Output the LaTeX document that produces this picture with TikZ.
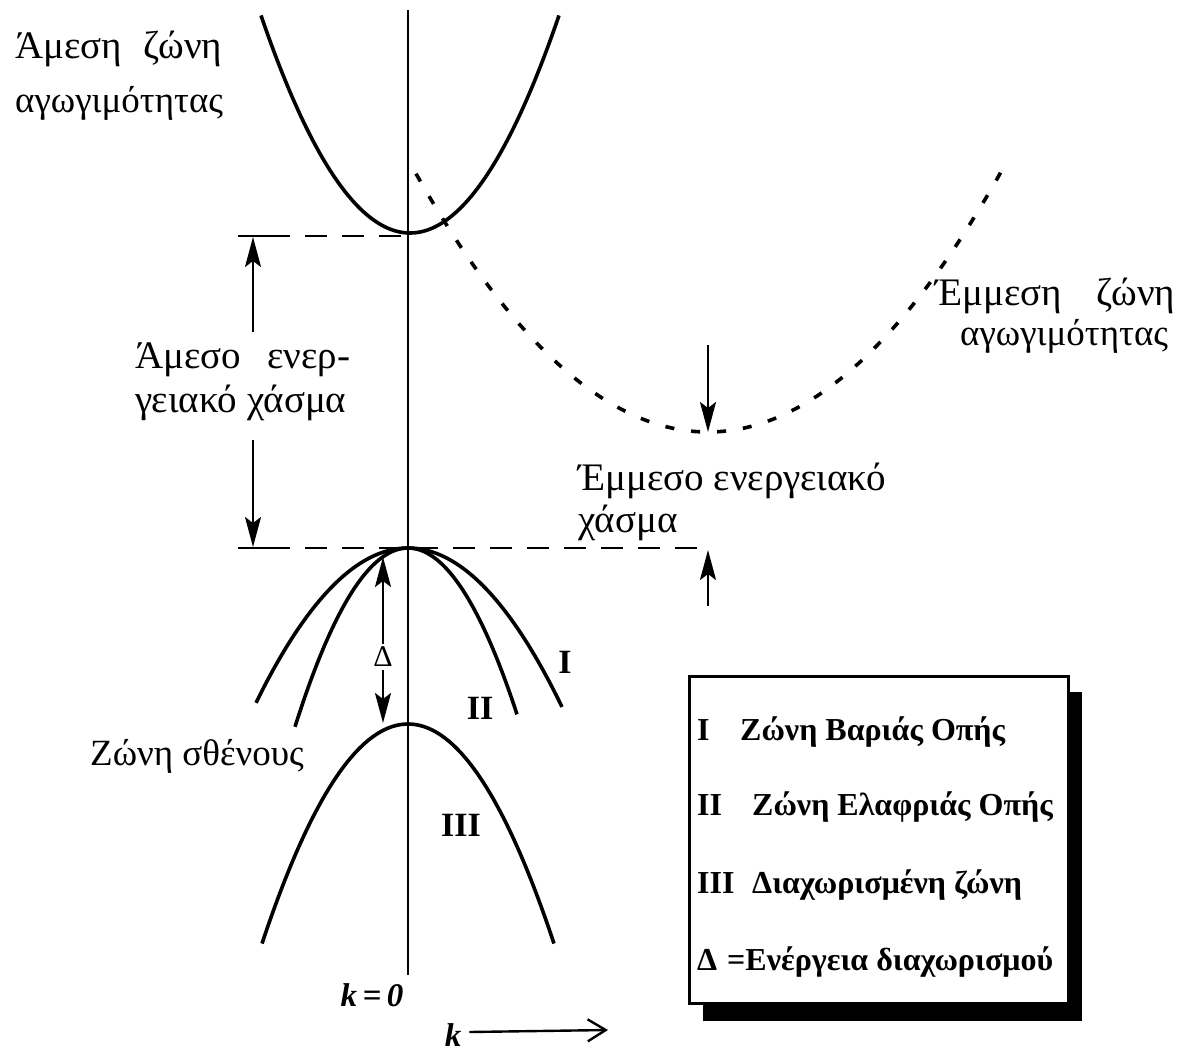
\documentclass[tikz,border=0pt]{standalone}
\usepackage{fontspec}
\setmainfont{Liberation Serif}
\usetikzlibrary{arrows.meta}
\begin{document}
\begin{tikzpicture}[x=1pt,y=-1pt,
  curve/.style={line width=3.6pt},
  axisline/.style={line width=2.8pt},
  dashline/.style={line width=2.6pt,dash pattern=on 22pt off 15pt},
  tickline/.style={line width=2.6pt},
  dotcurve/.style={line width=3.6pt,dash pattern=on 9pt off 17pt},
  arr/.style={line width=2.4pt,-{Stealth[length=30pt,width=16pt,inset=6pt]}},
  txt/.style={font=\fontsize{39}{43}\selectfont,inner sep=0pt,anchor=base west},
  legtxt/.style={font=\fontsize{32}{36}\selectfont\bfseries,inner sep=0pt,anchor=base west},
  roman/.style={font=\fontsize{34}{38}\selectfont\bfseries,inner sep=0pt},
  kbold/.style={font=\fontsize{33}{37}\selectfont\bfseries\itshape,inner sep=0pt},
]
\useasboundingbox (0,0) rectangle (1182,1063);
\fill[white] (0,0) rectangle (1182,1063);

% axis
\coordinate (axtop) at (408,10);
\coordinate (axbot) at (408,975);
\draw[axisline] (axtop) -- (axbot);

% direct conduction band
\draw[curve] plot[smooth,samples=61,domain=-14.9:14.9,variable=\t] ({410+10*\t},{233-0.98*\t*\t});

% indirect conduction band (dotted)
\draw[dotcurve] plot[smooth,samples=81,domain=-29.2:29.7,variable=\t] ({708+10*\t},{432-0.303*\t*\t});

% valence bands
\draw[curve] plot[smooth,samples=61,domain=-15.2:15.4,variable=\t] ({408+10*\t},{548+0.67*\t*\t});
\draw[curve] plot[smooth,samples=61,domain=-11.3:10.9,variable=\t] ({408+10*\t},{548+1.4*\t*\t});
\draw[curve] plot[smooth,samples=61,domain=-14.6:14.6,variable=\t] ({408+10*\t},{724+1.03*\t*\t});

% direct gap dashed lines with ticks
\coordinate (ul) at (238,236); \coordinate (ult) at (268,236); \coordinate (ur) at (408,236);
\coordinate (ll) at (238,548); \coordinate (llt) at (268,548); \coordinate (lr) at (708,548);
\draw[tickline] (ul) -- (ult);
\draw[dashline] (ult) -- (ur);
\draw[tickline] (ll) -- (llt);
\draw[dashline] (llt) -- (lr);

% direct gap arrows and label
\node[txt] (dg1) at (135,368) {\makebox[215pt][s]{Άμεσο ενερ-}};
\node[txt] (dg2) at (135,412) {γειακό χάσμα};
\coordinate (da1) at (253,332);
\coordinate (da2) at (253,440);
\draw[arr] (da1) -- (253,237);
\draw[arr] (da2) -- (253,547);

% indirect gap arrows
\coordinate (ia1) at (708,345);
\coordinate (ia2) at (708,606);
\draw[arr] (ia1) -- (708,432);
\draw[arr] (ia2) -- (708,550);

% split-off energy
\node[font=\fontsize{30}{34}\selectfont,inner sep=3pt] (delta) at (383,657) {Δ};
\draw[arr] (delta.north) -- (383,557);
\draw[arr] (delta.south) -- (383,723);

% band labels
\node[roman] (lI) at (565,662) {I};
\node[roman] (lII) at (480,708) {II};
\node[roman] (lIII) at (461,825) {III};

% texts
\node[txt] (cb1) at (15,58) {\makebox[207pt][s]{Άμεση ζώνη}};
\node[txt,font=\fontsize{37}{41}\selectfont] (cb2) at (15,112) {αγωγιμότητας};
\node[txt] (icb1) at (935,305) {\makebox[240pt][s]{Έμμεση ζώνη}};
\node[txt,font=\fontsize{37}{41}\selectfont] (icb2) at (960,345) {αγωγιμότητας};
\node[txt] (ig1) at (578,490) {Έμμεσο ενεργειακό};
\node[txt] (ig2) at (578,532) {χάσμα};
\node[txt,font=\fontsize{37}{41}\selectfont] (vb) at (90,765) {Ζώνη σθένους};

% legend
\fill (703,692) rectangle (1082,1021);
\node[draw,line width=2.6pt,fill=white,minimum width=379pt,minimum height=327pt,anchor=north west,inner sep=0pt] (legend) at (688,675) {};
\node[legtxt] (g1a) at (697,740) {I};
\node[legtxt] (g1b) at (740,740) {Ζώνη Βαριάς Οπής};
\node[legtxt] (g2a) at (697,815) {II};
\node[legtxt] (g2b) at (752,815) {Ζώνη Ελαφριάς Οπής};
\node[legtxt] (g3a) at (697,893) {III};
\node[legtxt] (g3b) at (752,893) {Διαχωρισμένη ζώνη};
\node[legtxt] (g4a) at (697,970) {Δ};
\node[legtxt] (g4b) at (727,970) {=Ενέργεια διαχωρισμού};

% k labels
\node[kbold] (k0) at (372,995) {k\,=\,0};
\node[kbold] (k) at (453,1035) {k};
\coordinate (kend) at (608,1030);
\draw[line width=2.4pt,-{Straight Barb[length=18pt,width=22pt,line width=2.4pt]}] (k.east) ++(8,-3) coordinate (kstart) -- (kend);
\end{tikzpicture}
\end{document}
